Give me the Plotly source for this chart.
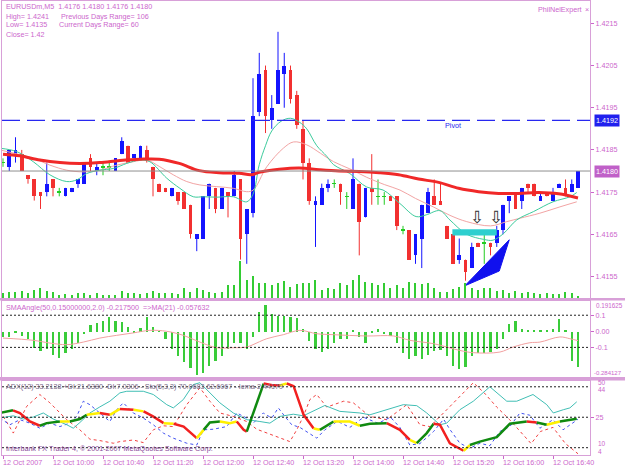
import plotly.graph_objects as go

# ---------------- DATA ----------------
opens = [1.4182,1.4181,1.4184,1.4184,1.4179,1.4178,1.4175,1.4175,1.4178,1.4175,
         1.4174,1.4175,1.4177,1.4177,1.4183,1.4180,1.4181,1.4181,1.4180,1.4184,
         1.4186,1.4183,1.4183,1.4185,1.4181,1.4177,1.4176,1.4174,1.4175,1.4175,
         1.4172,1.4164,1.4164,1.4174,1.4176,1.4171,1.4175,1.4174,1.4178,1.4165,
         1.4170,1.4194,1.4204,1.4192,1.4196,1.4203,1.4204,1.4198,1.4190,1.4182,
         1.4172,1.4172,1.4176,1.4177,1.4177,1.4174,1.4171,1.4177,1.4169,1.4176,
         1.4174,1.4174,1.4174,1.4174,1.4166,1.4166,1.4160,1.4164,1.4170,1.4174,
         1.4173,1.4167,1.4165,1.4159,1.4159,1.4157,1.4163,1.4163,1.4163,1.4163,
         1.4166,1.4173,1.4175,1.4173,1.4177,1.4177,1.4173,1.4175,1.4173,1.4176,
         1.4176,1.4175,1.4176]
highs = [1.4183,1.4185,1.4188,1.4185,1.4179,1.4178,1.4175,1.4182,1.4178,1.4176,
         1.4176,1.4176,1.4178,1.4182,1.4184,1.4182,1.4182,1.4182,1.4183,1.4188,
         1.4186,1.4184,1.4186,1.4186,1.4181,1.4177,1.4176,1.4176,1.4175,1.4175,
         1.4172,1.4165,1.4174,1.4177,1.4176,1.4176,1.4175,1.4180,1.4178,1.4171,
         1.4202,1.4208,1.4205,1.4198,1.4213,1.4208,1.4205,1.4199,1.4192,1.4183,
         1.4174,1.4177,1.4178,1.4178,1.4177,1.4175,1.4183,1.4177,1.4176,1.4184,
         1.4178,1.4175,1.4174,1.4174,1.4167,1.4166,1.4165,1.4172,1.4176,1.4178,
         1.4177,1.4167,1.4165,1.4164,1.4159,1.4163,1.4163,1.4165,1.4163,1.4167,
         1.4172,1.4174,1.4175,1.4176,1.4177,1.4177,1.4175,1.4175,1.4176,1.4177,
         1.4178,1.4178,1.4180]
lows = [1.4181,1.4180,1.4182,1.4180,1.4177,1.4173,1.4171,1.4174,1.4174,1.4174,
        1.4174,1.4175,1.4176,1.4177,1.4180,1.4179,1.4179,1.4180,1.4180,1.4184,
        1.4182,1.4183,1.4183,1.4182,1.4174,1.4175,1.4175,1.4174,1.4172,1.4171,
        1.4164,1.4161,1.4164,1.4171,1.4170,1.4171,1.4169,1.4174,1.4159,1.4158,
        1.4169,1.4193,1.4189,1.4190,1.4196,1.4195,1.4196,1.4190,1.4178,1.4172,
        1.4162,1.4172,1.4175,1.4176,1.4172,1.4171,1.4171,1.4160,1.4169,1.4172,
        1.4172,1.4172,1.4173,1.4166,1.4165,1.4159,1.4158,1.4157,1.4170,1.4172,
        1.4172,1.4164,1.4158,1.4158,1.4154,1.4157,1.4162,1.4158,1.4160,1.4162,
        1.4165,1.4170,1.4171,1.4171,1.4175,1.4174,1.4173,1.4174,1.4173,1.4176,
        1.4174,1.4175,1.4176]
closes = [1.4182,1.4185,1.4185,1.4180,1.4178,1.4174,1.4174,1.4177,1.4176,1.4175,
          1.4176,1.4176,1.4178,1.4182,1.4181,1.4181,1.4181,1.4181,1.4183,1.4187,
          1.4182,1.4184,1.4186,1.4183,1.4178,1.4175,1.4175,1.4176,1.4173,1.4171,
          1.4165,1.4165,1.4174,1.4177,1.4171,1.4176,1.4174,1.4179,1.4164,1.4171,
          1.4193,1.4203,1.4193,1.4195,1.4204,1.4205,1.4197,1.4191,1.4182,1.4173,
          1.4173,1.4176,1.4177,1.4177,1.4175,1.4174,1.4178,1.4168,1.4176,1.4175,
          1.4174,1.4174,1.4173,1.4167,1.4166,1.4159,1.4165,1.4172,1.4175,1.4172,
          1.4172,1.4164,1.4158,1.4160,1.4156,1.4162,1.4162,1.4163,1.4162,1.4166,
          1.4172,1.4174,1.4171,1.4176,1.4176,1.4174,1.4174,1.4174,1.4175,1.4177,
          1.4174,1.4177,1.4180]
volumes = [17,20,20,23,15,25,30,23,20,10,13,10,15,15,10,17,10,10,10,23,
           15,17,13,15,23,17,15,17,13,30,20,30,25,20,15,20,40,40,115,57,
           67,45,45,40,47,52,35,43,47,45,57,25,30,27,45,40,55,70,50,45,
           40,45,30,40,30,50,45,43,45,30,20,20,27,35,47,30,25,30,30,23,
           25,17,23,15,20,17,12,14,12,12,18,15,5]

# moving averages (bar position, price)
ma_slow_t = [0,2.7,5.9,9.1,12.3,15.5,18.7,21.9,25.0,28.2,31.4,34.6,37.8,39.7,41.0,44.2,47.4,
             50.6,53.8,57.0,60.2,63.3,66.5,69.7,72.9,76.1,79.3,82.5,85.7,88.9,92.0]
ma_slow_v = [1.41840,1.41836,1.41826,1.41820,1.41818,1.41820,1.41825,1.41828,1.41828,1.41818,
             1.41801,1.41796,1.41795,1.41791,1.41797,1.41804,1.41807,1.41803,1.41800,1.41799,
             1.41796,1.41791,1.41781,1.41773,1.41759,1.41751,1.41747,1.41747,1.41749,1.41746,1.41736]
ma_mid_t = [-0.5,4.85,7.5,10.2,12.85,15.5,18.2,20.85,23.0,25.1,27.25,29.4,31.5,34.2,36.85,39.0,40.05,
            42.2,44.85,46.5,48.6,50.8,52.9,55.5,58.2,61.0,63.5,66.0,68.85,71.5,74.2,78.0,80.6,82.7,
            85.9,89.1,91.8]
ma_mid_v = [1.41850,1.41830,1.41814,1.41802,1.41798,1.41802,1.41814,1.41822,1.41826,1.41810,
            1.41791,1.41775,1.41767,1.41763,1.41759,1.41751,1.41755,1.41810,1.41854,1.41869,
            1.41862,1.41842,1.41822,1.41805,1.41785,1.41768,1.41755,1.41735,1.41715,1.41695,
            1.41680,1.41670,1.41680,1.41688,1.41700,1.41715,1.41727]
ma_fast_t = [-0.5,2.2,4.85,7.5,10.2,11.8,13.4,15.5,17.65,19.8,21.9,23.5,26.2,28.3,30.45,32.1,34.2,
             36.85,39.0,40.0,41.0,42.0,43.0,44.5,46.0,47.5,48.6,50.2,51.8,52.9,55.5,58.2,60.8,
             63.5,66.1,67.7,69.9,71.5,74.2,76.9,78.4,80.1,82.2,84.9,88.0,90.7,91.8]
ma_fast_v = [1.41854,1.41846,1.41822,1.41791,1.41775,1.41779,1.41794,1.41802,1.41806,1.41818,
             1.41826,1.41822,1.41783,1.41759,1.41739,1.41739,1.41738,1.41739,1.41727,1.41745,
             1.41815,1.41860,1.41895,1.41918,1.41925,1.41915,1.41900,1.41860,1.41835,1.41815,
             1.41794,1.41762,1.41755,1.41723,1.41692,1.41696,1.41706,1.41684,1.41650,1.41638,
             1.41636,1.41652,1.41684,1.41704,1.41727,1.41739,1.41749]

pivot_level = 1.4192
last_price = 1.4180
price_ticks = [1.4155,1.4165,1.4175,1.4185,1.4195,1.4205,1.4215]
zone_t = [71.9, 79.0]
zone_p = [1.41647, 1.41662]
arrow_t = [75.8, 78.9]
arrow_p = [1.41690, 1.41690]
wedge_t = [73.9, 81.0, 79.4]
wedge_p = [1.41528, 1.41637, 1.41563]

sma_angle = [-0.03,-0.03,-0.005,-0.025,-0.045,-0.098,-0.119,-0.108,-0.146,-0.16,
             -0.13,-0.104,-0.067,-0.015,0.042,0.052,0.069,0.09,0.069,0.062,
             0.027,-0.005,0.025,0.09,0.033,0.005,-0.045,-0.108,-0.15,-0.19,
             -0.223,-0.27,-0.254,-0.21,-0.18,-0.15,-0.108,-0.067,-0.067,-0.108,
             -0.035,0.125,0.167,0.11,0.096,0.096,0.09,0.083,0.017,-0.056,
             -0.108,-0.125,-0.108,-0.067,-0.045,-0.045,0.01,-0.035,-0.07,-0.005,
             0.017,-0.015,-0.025,-0.067,-0.13,-0.17,-0.15,-0.17,-0.146,-0.119,
             -0.113,-0.15,-0.21,-0.233,-0.217,-0.15,-0.133,-0.133,-0.125,-0.104,
             -0.045,0.048,0.069,0.017,0.008,0.008,0.006,0.006,0.017,0.08,
             0.008,-0.18,-0.2175]
sma_ma_t = [0,4.85,7.5,10.2,12.85,15.5,18.2,20.85,23.5,26.2,28.85,31.5,34.2,36.85,39,40,42.2,
            44.85,47.5,50.2,52.9,58.2,62.5,65.1,68.9,73.1,75.3,79.5,81.6,84.3,85.9,89.1,90.7,92]
sma_ma_v = [-0.042,-0.056,-0.073,-0.083,-0.067,-0.042,-0.025,-0.010,0.006,0.0,-0.025,-0.067,
            -0.102,-0.102,-0.098,-0.083,-0.046,-0.021,0.006,-0.015,-0.021,-0.029,-0.029,-0.056,
            -0.077,-0.119,-0.133,-0.129,-0.098,-0.071,-0.067,-0.035,-0.046,-0.058]
sma_levels = [0.1, -0.1]

adx_t = [-0.5,1.6,2.7,4.3,5.9,7.0,9.1,10.7,12.3,13.4,15.5,17.1,18.7,20.9,22.5,24.0,25.7,27.3,
         28.9,31.0,32.1,33.1,34.7,36.3,37.4,38.5,39.0,40.1,41.7,43.3,44.3,45.4,46.5,48.1,49.7,
         50.7,52.9,55.5,57.1,58.7,61.4,63.5,65.1,66.2,67.8,68.9,69.9,71.5,73.7,74.7,76.3,79.0,
         81.1,83.8,85.4,87.0,89.1,91.8]
adx_v = [27.1,28.4,27.1,22.9,20.8,22.1,22.9,22.9,24.1,26.2,27.1,26.2,29.1,28.7,27.9,25.4,22.1,
         21.8,20.4,14.7,18.8,22.4,22.9,22.1,22.9,18.8,17.9,27.9,41.6,40.7,40.7,41.6,40.3,26.2,
         19.5,18.8,22.9,22.9,20.8,21.8,22.1,18.8,13.8,12.2,17.2,21.8,21.3,12.2,8.5,11.3,13.0,
         15.2,21.8,22.9,22.4,21.3,22.9,24.3]
adx_state = "YGRRRGGYGGYRYRYRRYRRYGGYYRRGGRRYRRRYGYYGGRRYGGRRRYGGGGRGYG"
pdi_t = [-0.5,1.65,3.25,4.85,6.45,8.05,10.2,11.25,12.3,13.9,15.5,17.1,18.7,19.8,22.45,24.05,26.2,
         27.25,28.85,30.45,31.5,32.6,34.7,36.85,39.0,41.1,42.7,44.3,46.45,48.05,50.2,51.5,53.9,
         57.1,58.7,61.4,64.05,66.2,67.8,69.9,71.0,73.1,75.25,77.9,79.0,80.6,82.2,84.3,84.8,87.0,
         88.05,89.65,90.7,91.8]
pdi_v = [24.6,25.7,24.1,25.1,27.1,24.1,21.3,19.6,22.4,27.1,30.1,32.9,37.0,37.8,37.8,36.2,31.2,
         29.6,33.7,41.1,42.0,38.7,32.1,27.1,23.8,22.9,22.1,25.4,26.5,25.7,28.7,30.8,27.9,27.1,
         26.2,28.7,31.2,30.7,27.1,21.3,22.1,28.7,32.9,40.0,37.0,32.9,32.9,35.3,36.2,31.2,27.1,
         28.7,29.6,32.6]
mdi_t = [0.05,1.65,3.8,5.9,7.5,10.2,12.3,13.9,15.5,17.65,18.7,20.85,22.45,24.05,25.65,27.25,
         29.4,31.0,31.5,33.1,34.7,36.85,39.0,40.6,42.2,44.3,45.9,47.0,48.05,49.1,50.2,51.8,54.5,
         56.05,58.7,61.4,64.6,66.7,68.3,71.0,73.1,75.25,77.0,79.0,81.0,83.0,84.5,86.0,88.0,
         90.0,92.0]
mdi_v = [25.4,17.2,30.4,36.2,32.1,23.8,18.8,14.2,13.5,12.2,13.0,13.8,12.5,18.8,20.8,20.4,31.2,
         37.8,39.5,32.9,27.1,25.4,22.9,19.1,17.2,14.7,13.0,18.8,25.4,33.7,36.2,30.0,32.9,32.1,
         25.4,23.8,31.2,21.3,20.4,28.7,35.3,42.0,37.0,30.0,24.0,17.0,12.0,18.0,20.0,12.0,7.0]
sto_t = [-0.5,1.1,2.7,4.3,5.9,7.5,9.1,10.7,11.8,12.85,13.9,15.5,17.1,18.2,19.25,20.85,22.45,
         24.05,25.65,27.25,29.4,31.0,32.05,33.65,35.8,37.4,39.0,40.05,41.65,43.0,44.05,45.1,46.2,
         47.5,48.85,50.2,51.5,53.5,55.5,57.7,60.0,62.0,63.5,65.1,66.7,68.9,70.5,71.5,73.1,74.7,
         76.3,77.9,79.5,81.1,82.7,84.3,85.9,88.0,89.6,91.25,92.0]
sto_v = [24.6,21.3,23.8,22.1,19.6,22.1,20.4,22.1,25.4,32.9,31.2,27.1,22.9,28.7,32.1,27.1,24.6,
         21.3,17.2,14.7,12.2,11.3,18.8,19.1,20.4,27.1,24.6,22.1,27.1,24.6,29.6,25.4,21.3,20,17.2,
         14.7,18.8,23,20,25,22,25,20,11.3,12,18,24,19,12.2,9.7,12.2,11,18,20.4,27.1,26,19.6,23.8,
         18.8,22.1,24]
adx_levels = [10, 25, 40]

time_tick_pos = [0, 8, 16, 24, 32, 40, 48, 56, 64, 72, 80, 88]
time_tick_text = ["12 Oct 2007", "12 Oct 10:00", "12 Oct 10:40", "12 Oct 11:20", "12 Oct 12:00",
                  "12 Oct 12:40", "12 Oct 13:20", "12 Oct 14:00", "12 Oct 14:40", "12 Oct 15:20",
                  "12 Oct 16:00", "12 Oct 16:40"]

# ---------------- STYLE ----------------
BLUE = "#1414FF"
RED = "#F23030"
DOJI = "#22CC22"
VIOLET = "#CC66CC"
FRAME = "#D8A0D8"
FONT = "Liberation Sans, Arial, sans-serif"
FS = 7.2

W, H = 625, 469
L_PX, R_PX, T_PX, B_PX = 2, 590, 1, 455
def px(x):
    return (x - L_PX) / (R_PX - L_PX)
def py(y):
    return (B_PX - y) / (B_PX - T_PX)

idx = list(range(len(opens)))
fig = go.Figure()

# volumes
fig.add_trace(go.Bar(x=idx, y=volumes, xaxis="x", yaxis="y4", width=0.22,
                     marker=dict(color="#33CC33", line=dict(width=0))))

# candles
groups = {"bull": ([], [], BLUE), "bear": ([], [], RED), "doji": ([], [], DOJI)}
wicks = {"bull": ([], []), "bear": ([], []), "doji": ([], [])}
for i, o, h, l, c in zip(idx, opens, highs, lows, closes):
    k = "bull" if c > o else ("bear" if c < o else "doji")
    groups[k][0].append(i)
    wicks[k][0].extend([i, i, None])
    wicks[k][1].extend([l, h, None])
    groups[k][1].append((min(o, c), abs(c - o)))
for k, (xs, bb, col) in groups.items():
    wx, wy = wicks[k]
    fig.add_trace(go.Scatter(x=wx, y=wy, mode="lines", line=dict(color=col, width=1),
                             xaxis="x", yaxis="y", hoverinfo="skip"))
    base = [b if hgt > 0 else b - 0.000007 for b, hgt in bb]
    hts = [hgt if hgt > 0 else 0.000014 for b, hgt in bb]
    fig.add_trace(go.Bar(x=xs, y=hts, base=base, width=0.62 if k != "doji" else 0.7,
                         marker=dict(color=col, line=dict(width=0)), xaxis="x", yaxis="y"))

# moving averages
fig.add_trace(go.Scatter(x=ma_mid_t, y=ma_mid_v, mode="lines", line=dict(color="#F2A4A4", width=1, shape="spline"),
                         xaxis="x", yaxis="y"))
fig.add_trace(go.Scatter(x=ma_fast_t, y=ma_fast_v, mode="lines", line=dict(color="#3CCB9C", width=1, shape="spline"),
                         xaxis="x", yaxis="y"))
fig.add_trace(go.Scatter(x=ma_slow_t, y=ma_slow_v, mode="lines", line=dict(color="#F02828", width=3, shape="spline"),
                         xaxis="x", yaxis="y"))

# zone, wedge
fig.add_trace(go.Scatter(x=[zone_t[0], zone_t[1], zone_t[1], zone_t[0], zone_t[0]],
                         y=[zone_p[0], zone_p[0], zone_p[1], zone_p[1], zone_p[0]],
                         fill="toself", fillcolor="#2ECFCF", mode="lines", line=dict(width=0, color="#2ECFCF"),
                         xaxis="x", yaxis="y"))
fig.add_trace(go.Scatter(x=wedge_t + [wedge_t[0]], y=wedge_p + [wedge_p[0]], fill="toself", fillcolor="#1010EE",
                         mode="lines", line=dict(width=1, color="#1010EE"), xaxis="x", yaxis="y"))

# middle panel
fig.add_trace(go.Bar(x=idx, y=sma_angle, width=0.34, xaxis="x2", yaxis="y2",
                     marker=dict(color="#3ACC3A", line=dict(width=0))))
fig.add_trace(go.Scatter(x=sma_ma_t, y=sma_ma_v, mode="lines", line=dict(color="#F2A0A0", width=1, shape="spline"),
                         xaxis="x2", yaxis="y2"))

# bottom panel
fig.add_trace(go.Scatter(x=mdi_t, y=mdi_v, mode="lines", line=dict(color="#F04040", width=1, dash="3px,3px"),
                         xaxis="x3", yaxis="y3"))
fig.add_trace(go.Scatter(x=sto_t, y=sto_v, mode="lines", line=dict(color="#4050F0", width=1, dash="3px,3px"),
                         xaxis="x3", yaxis="y3"))
fig.add_trace(go.Scatter(x=pdi_t, y=pdi_v, mode="lines", line=dict(color="#40BEB4", width=1),
                         xaxis="x3", yaxis="y3"))
adx_cols = {"Y": "#FFF000", "G": "#108A10", "R": "#F22020"}
seg_x, seg_y, cur = [adx_t[0]], [adx_v[0]], adx_state[1]
for k in range(1, len(adx_t)):
    col = adx_state[k]
    if col != cur:
        fig.add_trace(go.Scatter(x=seg_x, y=seg_y, mode="lines", line=dict(color=adx_cols[cur], width=2.5),
                                 xaxis="x3", yaxis="y3"))
        seg_x, seg_y, cur = [adx_t[k - 1]], [adx_v[k - 1]], col
    seg_x.append(adx_t[k])
    seg_y.append(adx_v[k])
fig.add_trace(go.Scatter(x=seg_x, y=seg_y, mode="lines", line=dict(color=adx_cols[cur], width=2.5),
                         xaxis="x3", yaxis="y3"))

shapes = [
    dict(type="line", xref="paper", x0=0, x1=1, yref="y", y0=pivot_level, y1=pivot_level,
         line=dict(color="#2828F0", width=1.3, dash="18px,7px")),
    dict(type="line", xref="paper", x0=0, x1=1, yref="y", y0=last_price, y1=last_price,
         line=dict(color="#909090", width=1)),
]
for lv in sma_levels:
    shapes.append(dict(type="line", xref="paper", x0=0, x1=1, yref="y2", y0=lv, y1=lv,
                       line=dict(color="#202020", width=1, dash="2px,2px")))
for lv in adx_levels:
    shapes.append(dict(type="line", xref="paper", x0=0, x1=1, yref="y3", y0=lv, y1=lv,
                       line=dict(color="#202020", width=1, dash="2px,2px")))
# panel separators
for y0, y1 in [(298, 300.5), (377, 380.5)]:
    shapes.append(dict(type="rect", xref="paper", yref="paper", x0=px(0), x1=px(625), y0=py(y1), y1=py(y0),
                       fillcolor=FRAME, line=dict(width=0)))

def txt(x, y, s, color=VIOLET, size=FS, xanchor="left", **kw):
    return dict(x=px(x), y=py(y), xref="paper", yref="paper", text=s, showarrow=False,
                xanchor=xanchor, yanchor="middle", font=dict(family=FONT, size=size, color=color), **kw)

ann = [
    txt(4, 7, "EURUSDm,M5  1.4176 1.4180 1.4176 1.4180"),
    txt(4, 16.3, "High= 1.4241"),
    txt(59, 16.3, "Previous Days Range= 106"),
    txt(4, 25, "Low= 1.4135"),
    txt(57, 25, "Current Days Range= 60"),
    txt(4, 34, "Close= 1.42"),
    txt(536, 9.5, "PhilNelExpert"),
    txt(583, 9.5, "×"),
    txt(443, 125.5, "Pivot", color="#2828F0"),
    txt(594, 120, "1.4192", color="white", bgcolor="#2020EE", borderpad=1),
    txt(594, 171.5, "1.4180", color="white", bgcolor="#C060C8", borderpad=1),
    txt(4, 307.5, "SMAAngle(50,0.15000000,2.0) -0.217500  =>MA(21) -0.057632"),
    txt(594, 305, "0.191625", size=6.3),
    txt(592, 372.5, "-0.284127", size=6.0),
    txt(4, 386.5, "ADX(12) 33.2138 +DI:21.6380 -DI:7.0306 - Sto(5,3,3) 70.0683 62.6067 - Iema-2.44179",
        color="#7A6A8A"),
    txt(4, 448.5, "Interbank FX Trader 4, © 2001-2007 MetaQuotes Software Corp.", color="#8A4A9A"),
    txt(596, 382, "50", size=6.5), txt(596, 389.5, "44", size=6.5),
    txt(596, 443.5, "10", size=6.5), txt(596, 451, "4", size=6.5),
]
for t, p in zip(arrow_t, arrow_p):
    ann.append(dict(x=t, y=p, xref="x", yref="y", text="⇩", showarrow=False,
                    font=dict(family="DejaVu Sans", size=17, color="#303030")))
for t, s in zip(time_tick_pos, time_tick_text):
    ann.append(dict(x=t, y=0, xref="x3", yref="paper", text=s, showarrow=False, xanchor="left",
                    yanchor="top", xshift=-2, yshift=-1, font=dict(family=FONT, size=FS, color=VIOLET)))

xcommon = dict(range=[(L_PX - 3) / 6.25, (R_PX - 3) / 6.25], showgrid=False, zeroline=False,
               showline=True, mirror=True, linecolor=FRAME, linewidth=1, showticklabels=False)
ycommon = dict(side="right", showgrid=False, zeroline=False, showline=True, mirror=True,
               linecolor=FRAME, linewidth=1, ticks="outside", ticklen=3, tickcolor=VIOLET,
               tickfont=dict(family=FONT, size=FS, color=VIOLET))

fig.update_layout(
    width=W, height=H, margin=dict(l=L_PX, r=W - R_PX, t=T_PX, b=H - B_PX),
    paper_bgcolor="white", plot_bgcolor="white", showlegend=False, barmode="overlay", bargap=0,
    xaxis=dict(domain=[0, 1], anchor="y", **xcommon),
    xaxis2=dict(domain=[0, 1], anchor="y2", matches="x", **xcommon),
    xaxis3=dict(domain=[0, 1], anchor="y3", matches="x", ticks="outside", ticklen=3, tickcolor=VIOLET,
                tickvals=time_tick_pos, **xcommon),
    yaxis=dict(domain=[py(298), py(1)], anchor="x", range=[1.41499, 1.42203],
               tickvals=price_ticks, ticktext=[f"{v:.4f}" for v in price_ticks], **ycommon),
    yaxis4=dict(overlaying="y", range=[0, 920], visible=False, anchor="x"),
    yaxis2=dict(domain=[py(377), py(300.5)], anchor="x2", range=[-0.284127, 0.191625],
                tickvals=[0.1, 0, -0.1], ticktext=["0.1", "0.00", "-0.1"], **ycommon),
    yaxis3=dict(domain=[0, py(380.5)], anchor="x3", range=[6.4, 43.1],
                tickvals=[25], ticktext=["25"], **ycommon),
    shapes=shapes, annotations=ann,
)

fig.write_html("out.html")
